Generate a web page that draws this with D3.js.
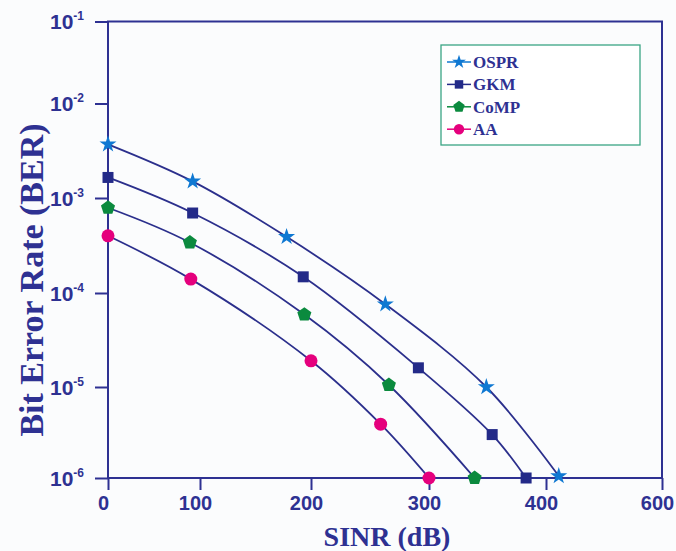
<!DOCTYPE html>
<html>
<head>
<meta charset="utf-8">
<script src="https://cdn.jsdelivr.net/npm/d3@7"></script>
<style>
  html, body { margin: 0; padding: 0; background: #fbfcfd; }
  svg { display: block; }
</style>
</head>
<body>
<svg id="chart" width="676" height="551"></svg>
<script>
// ---------------- data ----------------
const categories = ["OSPR", "GKM", "CoMP", "AA"];
const xTickValues = [0, 100, 200, 300, 400, 600];
const yTickValues = [1e-1, 1e-2, 1e-3, 1e-4, 1e-5, 1e-6];
const yTickExponents = ["-1", "-2", "-3", "-4", "-5", "-6"];

const osprX = [0, 92, 178, 263, 349, 422];
const osprY = [3.7e-3, 1.5e-3, 3.9e-4, 7.6e-5, 1.0e-5, 1.05e-6];
const gkmX  = [0, 92, 193, 291, 354, 383];
const gkmY  = [1.65e-3, 6.95e-4, 1.48e-4, 1.6e-5, 3.0e-6, 1.0e-6];
const compX = [0, 89, 194, 266, 339];
const compY = [7.9e-4, 3.4e-4, 5.9e-5, 1.05e-5, 1.0e-6];
const aaX   = [0, 90, 200, 259, 300];
const aaY   = [4.0e-4, 1.4e-4, 1.9e-5, 3.9e-6, 1.0e-6];

const xLabel = "SINR (dB)";
const yLabel = "Bit Error Rate (BER)";

(function () {
// ---------------- style ----------------
const navy = "#2e3192";
const lineColor = "#2b2f8c";
const markerColors = { OSPR: "#0f78d2", GKM: "#232a88", CoMP: "#0b8a3e", AA: "#e5007d" };

const symbolPentagon = {
  draw(ctx, size) {
    const r = Math.sqrt(size / 2.3776);
    for (let i = 0; i < 5; i++) {
      const a = -Math.PI / 2 + i * 2 * Math.PI / 5;
      const px = r * Math.cos(a), py = r * Math.sin(a);
      if (i === 0) ctx.moveTo(px, py); else ctx.lineTo(px, py);
    }
    ctx.closePath();
  }
};
const symbolTypes = { OSPR: d3.symbolStar, GKM: d3.symbolSquare, CoMP: symbolPentagon, AA: d3.symbolCircle };
const symbolSizes = { OSPR: 90, GKM: 121, CoMP: 130, AA: 133 };
const legendSizes = { OSPR: 60, GKM: 72, CoMP: 85, AA: 85 };

const series = [
  { name: "OSPR", xs: osprX, ys: osprY },
  { name: "GKM", xs: gkmX, ys: gkmY },
  { name: "CoMP", xs: compX, ys: compY },
  { name: "AA", xs: aaX, ys: aaY }
];

// ---------------- scales ----------------
const x = d3.scaleLinear().domain(xTickValues).range([108, 200, 311, 429, 546, 662]);
const y = d3.scaleLog().domain(yTickValues).range([21.5, 103.5, 198, 293, 387, 478]);

const svg = d3.select("#chart");
svg.append("rect").attr("width", 676).attr("height", 551).attr("fill", "#fbfcfd");

const pLeft = 108, pRight = 662, pTop = 21.5, pBottom = 478;

// frame
svg.append("rect")
  .attr("x", pLeft).attr("y", pTop)
  .attr("width", pRight - pLeft).attr("height", pBottom - pTop)
  .attr("fill", "none").attr("stroke", navy).attr("stroke-width", 2);

// x axis
const xAxis = svg.append("g")
  .attr("transform", `translate(0,${pBottom})`)
  .call(d3.axisBottom(x).tickValues(xTickValues).tickSize(12).tickFormat(d3.format("d")));
xAxis.select(".domain").remove();
xAxis.selectAll(".tick line").attr("stroke", navy).attr("stroke-width", 2);
xAxis.selectAll(".tick text")
  .attr("fill", navy)
  .attr("font-family", "'Liberation Sans', Arial, sans-serif")
  .attr("font-weight", "bold")
  .attr("font-size", 20)
  .attr("dy", null)
  .attr("y", 32)
  .attr("dx", -5);

// y axis
const yAxis = svg.append("g")
  .attr("transform", `translate(${pLeft},0)`)
  .call(d3.axisLeft(y).tickValues(yTickValues).tickSize(13).tickFormat(""));
yAxis.select(".domain").remove();
yAxis.selectAll(".tick line").attr("stroke", navy).attr("stroke-width", 2);
yAxis.selectAll(".tick text").each(function(d, i) {
  const t = d3.select(this)
    .attr("x", -24).attr("dy", null).attr("y", 7)
    .attr("fill", navy)
    .attr("font-family", "'Liberation Sans', Arial, sans-serif")
    .attr("font-weight", "bold")
    .attr("text-anchor", "end");
  t.text(null);
  t.append("tspan").attr("font-size", 21).text("10");
  t.append("tspan").attr("font-size", 12).attr("dy", -9).text(yTickExponents[i]);
});

// axis titles
svg.append("text")
  .attr("x", 387).attr("y", 546)
  .attr("text-anchor", "middle")
  .attr("fill", navy)
  .attr("font-family", "'Liberation Serif', 'Times New Roman', serif")
  .attr("font-weight", "bold")
  .attr("font-size", 28)
  .text(xLabel);

svg.append("text")
  .attr("transform", "translate(43,280) rotate(-90)")
  .attr("text-anchor", "middle")
  .attr("fill", navy)
  .attr("font-family", "'Liberation Serif', 'Times New Roman', serif")
  .attr("font-weight", "bold")
  .attr("font-size", 34)
  .text(yLabel);

// curves
const line = d3.line()
  .x(d => x(d[0]))
  .y(d => y(d[1]))
  .curve(d3.curveCatmullRom.alpha(0.5));

series.forEach(s => {
  const pts = s.xs.map((v, i) => [v, s.ys[i]]);
  svg.append("path")
    .datum(pts)
    .attr("d", line)
    .attr("fill", "none")
    .attr("stroke", lineColor)
    .attr("stroke-width", 1.8);
});

// markers
series.forEach(s => {
  const pts = s.xs.map((v, i) => [v, s.ys[i]]);
  svg.append("g").selectAll("path")
    .data(pts)
    .join("path")
    .attr("transform", d => `translate(${x(d[0])},${y(d[1])})`)
    .attr("d", d3.symbol().type(symbolTypes[s.name]).size(symbolSizes[s.name]))
    .attr("fill", markerColors[s.name]);
});

// legend
const legend = svg.append("g");
legend.append("rect")
  .attr("x", 441).attr("y", 45)
  .attr("width", 199).attr("height", 100)
  .attr("fill", "#ffffff")
  .attr("stroke", "#3aa585")
  .attr("stroke-width", 1.3);

categories.forEach((c, i) => {
  const cy = 62 + i * 22.4;
  legend.append("line")
    .attr("x1", 447).attr("x2", 471)
    .attr("y1", cy).attr("y2", cy)
    .attr("stroke", markerColors[c]).attr("stroke-width", 1.5);
  legend.append("path")
    .attr("transform", `translate(459,${cy})`)
    .attr("d", d3.symbol().type(symbolTypes[c]).size(legendSizes[c]))
    .attr("fill", markerColors[c]);
  legend.append("text")
    .attr("x", 473).attr("y", cy + 6)
    .attr("fill", navy)
    .attr("font-family", "'Liberation Serif', 'Times New Roman', serif")
    .attr("font-weight", "bold")
    .attr("font-size", 17)
    .text(c);
});
})();
</script>
</body>
</html>
